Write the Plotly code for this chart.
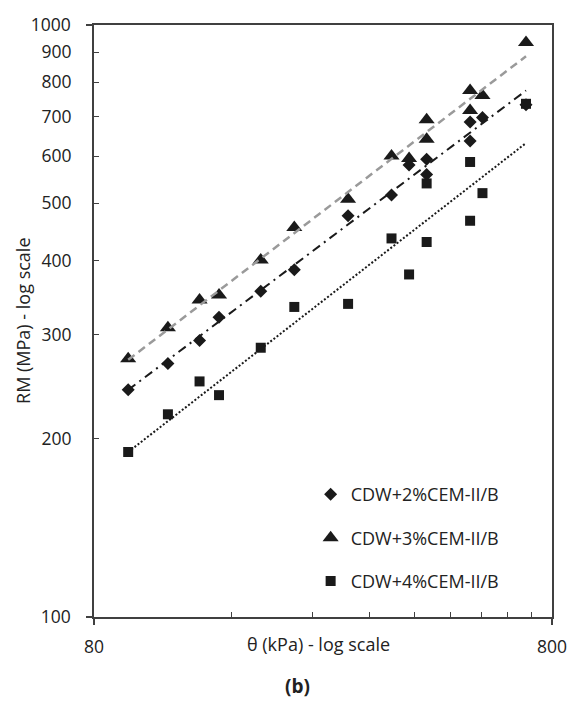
import numpy as np
import plotly.graph_objects as go

# Bulk stress theta (kPa), shared by all three mixtures
theta = [95, 116, 136, 150, 185, 219, 287, 357, 390, 426, 426, 530, 564, 530, 702]

# Resilient modulus (MPa) for each cement content
rm_2 = [242, 268, 293, 321, 355, 386, 476, 516, 580, 593, 559, 686, 698, 637, 733]
rm_3 = [273, 308, 343, 350, 401, 455, 508, 601, 595, 692, 641, 775, 760, 717, 934]
rm_4 = [190, 220, 250, 237, 285, 334, 338, 436, 379, 430, 540, 587, 520, 467, 736]

names = ["CDW+2%CEM-II/B", "CDW+3%CEM-II/B", "CDW+4%CEM-II/B"]

x_major = [80, 800]
x_minor = [160, 240, 320, 400, 480, 560, 640, 720]
y_major = [100, 1000]
y_minor = [200, 300, 400, 500, 600, 700, 800, 900]

FONT = "Open Sans"
INK = "#222222"
AXIS = "#404040"
TICK_SIZE = 17.5

series = [
    (names[0], rm_2, "diamond", 10, dict(color="#1a1a1a", width=2, dash="9px,5px,2px,5px")),
    (names[1], rm_3, "triangle-up", 14, dict(color="#9a9a9a", width=2.5, dash="8px,5px")),
    (names[2], rm_4, "square", 10, dict(color="#1a1a1a", width=2, dash="2px,2px")),
]

fig = go.Figure()

for i, (name, vals, sym, size, line) in enumerate(series):
    fig.add_trace(go.Scatter(
        x=theta, y=vals, mode="markers", name=name, legendgroup=f"g{i}",
        marker=dict(symbol=sym, size=size, color="#1a1a1a", line=dict(width=0)),
    ))

# Power-law trend lines (straight on log-log axes), drawn above the markers
for i, (name, vals, sym, size, line) in enumerate(series):
    lx = np.log10(theta)
    ly = np.log10(vals)
    b, a = np.polyfit(lx, ly, 1)
    xs = np.array([min(theta), max(theta)], dtype=float)
    ys = 10 ** (a + b * np.log10(xs))
    fig.add_trace(go.Scatter(
        x=xs, y=ys, mode="lines", line=line, showlegend=False,
        hoverinfo="skip", yaxis="y2",
    ))

fig.update_layout(
    width=579, height=702,
    margin=dict(l=94, r=21, t=17, b=85),
    paper_bgcolor="white", plot_bgcolor="white",
    font=dict(family=FONT, color=INK, size=18),
    showlegend=True,
    legend=dict(
        x=0.473, y=0.238, xanchor="left", yanchor="top",
        bgcolor="rgba(0,0,0,0)", font=dict(size=18, family=FONT, color=INK),
        tracegroupgap=17, itemwidth=30,
    ),
    xaxis=dict(
        type="log", range=[np.log10(80), np.log10(800)],
        tickmode="array", tickvals=x_major, ticktext=[str(v) for v in x_major],
        ticks="outside", ticklen=6, tickwidth=1.5, tickcolor=AXIS,
        showline=True, linecolor=AXIS, linewidth=1.5, mirror=True,
        showgrid=False, zeroline=False, ticklabelstandoff=7,
        tickfont=dict(size=TICK_SIZE, family=FONT, color=INK),
        minor=dict(tickmode="array", tickvals=x_minor, ticks="inside",
                   ticklen=5, tickwidth=1, tickcolor=AXIS, showgrid=False),
    ),
    yaxis=dict(
        type="log", range=[2, 3],
        tickmode="array", tickvals=y_major, ticktext=[str(v) for v in y_major],
        ticks="outside", ticklen=6, tickwidth=1.5, tickcolor=AXIS,
        showline=True, linecolor=AXIS, linewidth=1.5, mirror=True,
        showgrid=False, zeroline=False, ticklabelstandoff=12,
        tickfont=dict(size=TICK_SIZE, family=FONT, color=INK),
        minor=dict(tickmode="array", tickvals=y_minor, ticks="inside",
                   ticklen=5, tickwidth=1, tickcolor=AXIS, showgrid=False),
    ),
    yaxis2=dict(
        type="log", range=[2, 3], overlaying="y", side="left",
        tickmode="array", tickvals=y_minor, ticktext=[str(v) for v in y_minor],
        ticks="outside", ticklen=6, tickcolor="rgba(0,0,0,0)",
        showline=False, showgrid=False, zeroline=False, ticklabelstandoff=12,
        tickfont=dict(size=TICK_SIZE, family=FONT, color=INK),
    ),
    annotations=[
        dict(text="θ (kPa) - log scale", xref="paper", yref="paper",
             x=(321 - 94) / 464, y=(617.3 - 645) / 600, showarrow=False,
             xanchor="center", yanchor="middle", font=dict(size=18, family=FONT, color=INK)),
        dict(text="RM (MPa) - log scale", xref="paper", yref="paper",
             x=(22 - 94) / 464, y=0.5, showarrow=False, textangle=-90,
             xanchor="center", yanchor="middle", font=dict(size=18, family=FONT, color=INK)),
        dict(text="<b>(b)</b>", xref="paper", yref="paper",
             x=(300 - 94) / 464, y=(617.3 - 687) / 600, showarrow=False,
             xanchor="center", yanchor="middle", font=dict(size=19, family=FONT, color=INK)),
    ],
)

fig.write_html("out.html")
